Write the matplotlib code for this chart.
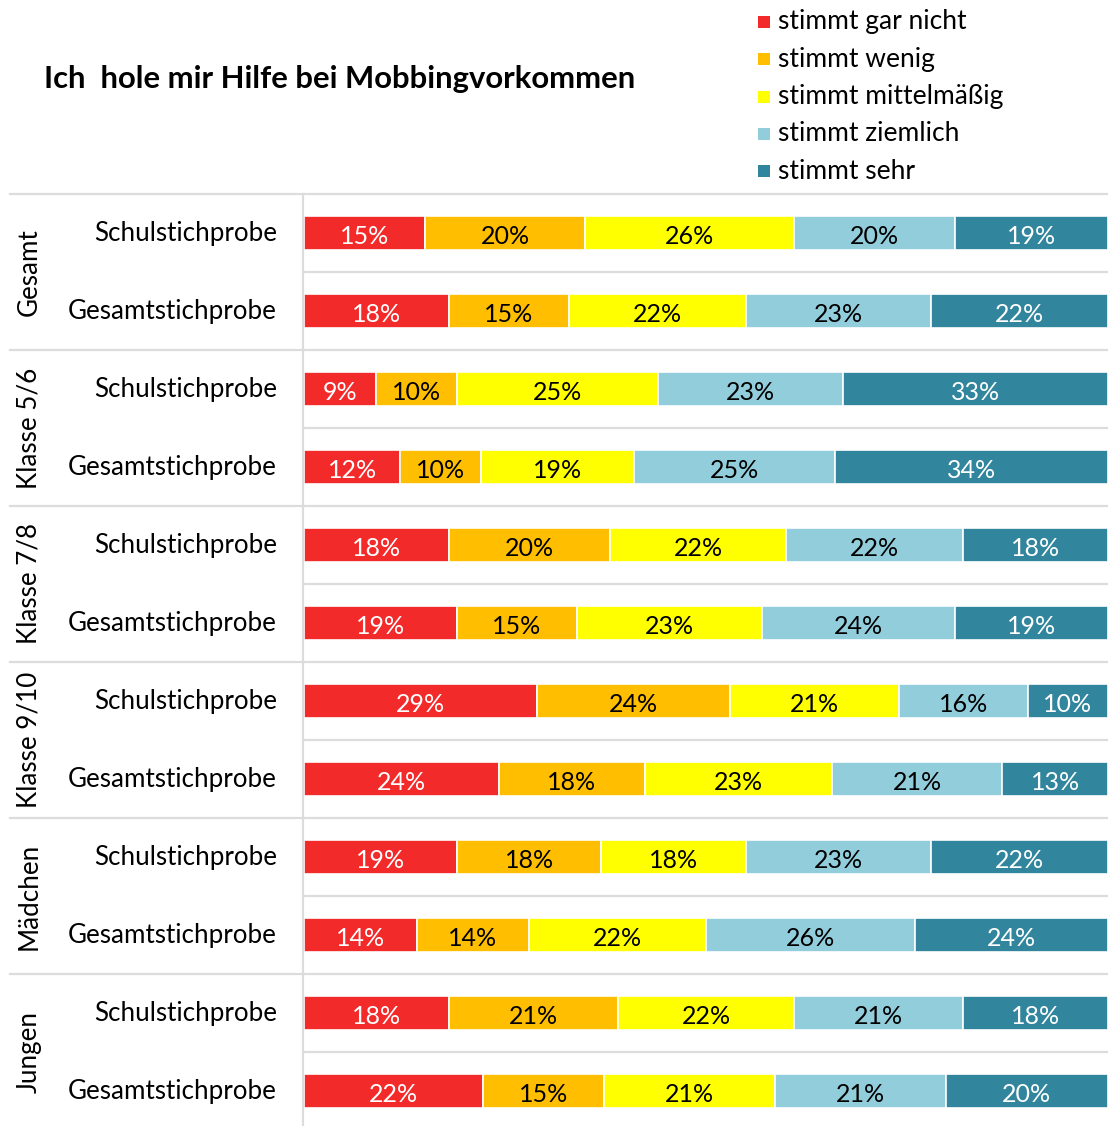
import matplotlib
matplotlib.use("Agg")
import matplotlib.pyplot as plt
from matplotlib.lines import Line2D
from matplotlib.patches import Rectangle
from matplotlib.transforms import blended_transform_factory
import numpy as np

plt.rcParams['font.family'] = ['Lato', 'DejaVu Sans']

title = "Ich  hole mir Hilfe bei Mobbingvorkommen"
categories = ["stimmt gar nicht", "stimmt wenig", "stimmt mittelmäßig",
              "stimmt ziemlich", "stimmt sehr"]
colors = ["#F32A2A", "#FFBF00", "#FFFF00", "#92CDDC", "#31859C"]
text_colors = ["white", "black", "black", "black", "white"]
groups = ["Gesamt", "Klasse 5/6", "Klasse 7/8", "Klasse 9/10", "Mädchen", "Jungen"]
samples = ["Schulstichprobe", "Gesamtstichprobe"]

values = np.array([
    [15, 20, 26, 20, 19],
    [18, 15, 22, 23, 22],
    [9, 10, 25, 23, 33],
    [12, 10, 19, 25, 34],
    [18, 20, 22, 22, 18],
    [19, 15, 23, 24, 19],
    [29, 24, 21, 16, 10],
    [24, 18, 23, 21, 13],
    [19, 18, 18, 23, 22],
    [14, 14, 22, 26, 24],
    [18, 21, 22, 21, 18],
    [22, 15, 21, 21, 20],
], dtype=float)

W, H = 1108, 1126
fig = plt.figure(figsize=(W / 100, H / 100), dpi=100)

ax_left, ax_right = 304, 1108
ax_top, ax_bot = 194, 1126
ax = fig.add_axes([ax_left / W, 1 - ax_bot / H, (ax_right - ax_left) / W, (ax_bot - ax_top) / H])
row_px = 78
first_center = 233
ax.set_ylim((ax_bot - first_center) / row_px, (ax_top - first_center) / row_px)
ax.set_xlim(0, 100)
ax.axis("off")

n = len(values)
norm = values / values.sum(axis=1, keepdims=True) * 100
ys = np.arange(n)
bar_h = 34 / row_px
left = np.zeros(n)
for j in range(len(categories)):
    ax.barh(ys, norm[:, j], left=left, height=bar_h, color=colors[j],
            edgecolor="white", linewidth=1.2, label=categories[j])
    for i in range(n):
        ax.text(left[i] + norm[i, j] / 2, ys[i] + 0.05, f"{int(values[i, j])}%",
                ha="center", va="center", fontsize=18, color=text_colors[j])
    left += norm[:, j]

line_c = "#DCDCDC"
tr = blended_transform_factory(fig.transFigure, ax.transData)
for g in range(len(groups)):
    ysep = 2 * g - 0.5
    fig.add_artist(Line2D([10 / W, 1], [ysep, ysep], transform=tr, color=line_c, lw=1.6))
    ymid = 2 * g + 0.5
    fig.add_artist(Line2D([ax_left / W, 1], [ymid, ymid], transform=tr, color=line_c, lw=1.6))
    t = fig.text(0, 0, groups[g], rotation=90, ha="center", va="center", fontsize=18.7)
    t.set_transform(tr)
    t.set_position((29 / W, 2 * g + 0.5))
    for k, s in enumerate(samples):
        tt = fig.text(0, 0, s, ha="right", va="center", fontsize=18.7)
        tt.set_transform(tr)
        tt.set_position((277 / W, 2 * g + k + 0.01))

fig.add_artist(Line2D([303 / W, 303 / W], [0, 1 - ax_top / H], transform=fig.transFigure,
                      color=line_c, lw=1.6))

fig.text(44 / W, 1 - 79 / H, title, fontsize=22.3, fontweight="bold", ha="left", va="center")

for j, c in enumerate(categories):
    yc = 1 - (22 + 37.3 * j) / H
    fig.add_artist(Rectangle((758 / W, yc - 6 / H), 12 / W, 12 / H, transform=fig.transFigure,
                             facecolor=colors[j], edgecolor="none"))
    fig.text(778 / W, yc, c, fontsize=19, ha="left", va="center")

fig.savefig("out.png", dpi=100, facecolor="white")
